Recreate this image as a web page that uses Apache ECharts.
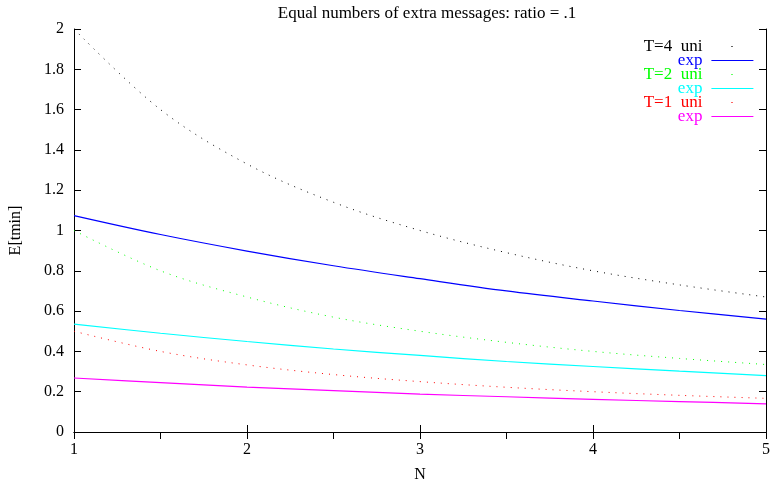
<!DOCTYPE html>
<html>
<head>
<meta charset="utf-8">
<script src="https://cdn.jsdelivr.net/npm/echarts@6/dist/echarts.min.js"></script>
<style>
html,body{margin:0;padding:0;background:#fff;}
#main{width:773px;height:488px;}
</style>
</head>
<body>
<div id="main"></div>
<script>
var titleText = 'Equal numbers of extra messages: ratio = .1';
var xName = 'N';
var yName = 'E[tmin]';
var nValues = [1, 1.5, 2, 2.5, 3, 3.5, 4, 4.5, 5];
var t4Uni = [2.0, 1.6, 1.33, 1.14, 1.0, 0.89, 0.8, 0.73, 0.67];
var t4Exp = [1.074, 0.98, 0.898, 0.825, 0.761, 0.70, 0.65, 0.603, 0.56];
var t2Uni = [1.0, 0.8, 0.67, 0.57, 0.5, 0.445, 0.4, 0.365, 0.335];
var t2Exp = [0.535, 0.49, 0.449, 0.412, 0.38, 0.35, 0.325, 0.302, 0.28];
var t1Uni = [0.5, 0.4, 0.333, 0.285, 0.25, 0.222, 0.2, 0.182, 0.167];
var t1Exp = [0.268, 0.245, 0.223, 0.205, 0.188, 0.175, 0.162, 0.151, 0.14];
var seriesNames = ['T=4  uni', 'T=4 exp', 'T=2  uni', 'T=2 exp', 'T=1  uni', 'T=1 exp'];
var legendLabels = ['T=4  uni', 'exp', 'T=2  uni', 'exp', 'T=1  uni', 'exp'];
var seriesColors = ['#000000', '#0000ff', '#00ff00', '#00ffff', '#ff0000', '#ff00ff'];
var seriesValues = [t4Uni, t4Exp, t2Uni, t2Exp, t1Uni, t1Exp];
var seriesDotted = [true, false, true, false, true, false];

var font = 'Liberation Serif';
var chart = echarts.init(document.getElementById('main'));

function pairs(ys) {
  return nValues.map(function (x, i) { return [x, ys[i]]; });
}

var series = seriesNames.map(function (name, i) {
  return {
    name: name,
    type: 'line',
    data: pairs(seriesValues[i]),
    smooth: 0.35,
    symbol: 'none',
    showSymbol: false,
    xAxisIndex: 0,
    yAxisIndex: 0,
    color: seriesColors[i],
    lineStyle: seriesDotted[i]
      ? { color: seriesColors[i], width: 1, type: [1, 6] }
      : { color: seriesColors[i], width: 1.2, type: 'solid' },
    z: 3
  };
});

var legendData = seriesNames.map(function (name, i) {
  return {
    name: name,
    textStyle: { color: seriesColors[i] },
    itemStyle: { color: 'rgba(0,0,0,0)', borderColor: 'rgba(0,0,0,0)', borderWidth: 0, opacity: 0 },
    lineStyle: seriesDotted[i]
      ? { color: seriesColors[i], width: 1.2, type: [0, 20, 1.2, 100], opacity: 1 }
      : { color: seriesColors[i], width: 1.2, type: 'solid', opacity: 1 }
  };
});

var tickStyle = { show: true, inside: true, length: 7, lineStyle: { color: '#000', width: 1 } };
var lineStyle = { show: true, lineStyle: { color: '#000', width: 1 } };

chart.setOption({
  animation: false,
  backgroundColor: '#fff',
  title: {
    text: titleText,
    left: 422,
    top: 0,
    textAlign: 'center',
    textStyle: { fontFamily: font, fontSize: 17, fontWeight: 'normal', color: '#000' }
  },
  grid: { left: 74, right: 3, top: 29, bottom: 55, containLabel: false },
  legend: {
    orient: 'vertical',
    right: 14,
    top: 33,
    align: 'right',
    itemWidth: 42,
    itemHeight: 14,
    itemGap: -3,
    formatter: function (name) { return legendLabels[seriesNames.indexOf(name)]; },
    textStyle: { fontFamily: font, fontSize: 17, lineHeight: 17, width: 70, align: 'right', padding: [0, 4, 0, 0] },
    data: legendData
  },
  xAxis: [{
    type: 'value', min: 1, max: 5, interval: 1, position: 'bottom',
    name: xName, nameLocation: 'middle', nameGap: 35,
    nameTextStyle: { fontFamily: font, fontSize: 16, color: '#000' },
    axisLine: lineStyle, axisTick: tickStyle,
    axisLabel: { fontFamily: font, fontSize: 16, color: '#000', margin: 10 },
    splitLine: { show: false }
  }, {
    type: 'value', min: 1, max: 5, interval: 0.5, position: 'top',
    axisLine: lineStyle, axisTick: tickStyle,
    axisLabel: { show: false }, splitLine: { show: false }
  }],
  yAxis: [{
    type: 'value', min: 0, max: 2, interval: 0.2, position: 'left',
    name: yName, nameLocation: 'middle', nameGap: 50, nameRotate: 90,
    nameTextStyle: { fontFamily: font, fontSize: 16, color: '#000' },
    axisLine: lineStyle, axisTick: tickStyle,
    axisLabel: { fontFamily: font, fontSize: 16, color: '#000', margin: 10 },
    splitLine: { show: false }
  }, {
    type: 'value', min: 0, max: 2, interval: 0.2, position: 'right',
    axisLine: lineStyle, axisTick: tickStyle,
    axisLabel: { show: false }, splitLine: { show: false }
  }],
  series: series
});
</script>
</body>
</html>
